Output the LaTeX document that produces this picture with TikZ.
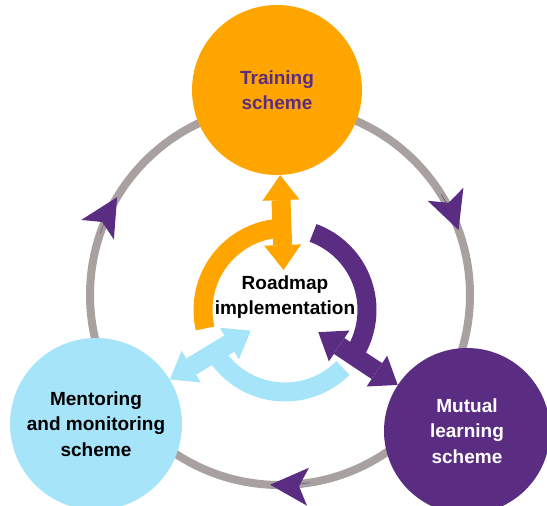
\documentclass[tikz,border=0pt]{standalone}
\usepackage{fontspec}
\setmainfont{Liberation Sans}
\definecolor{schemeorange}{HTML}{FFA500}
\definecolor{schemeblue}{HTML}{A6E4F9}
\definecolor{schemepurple}{HTML}{5B2D82}
\definecolor{ringgrey}{HTML}{A9A0A0}
\usetikzlibrary{arrows.meta}

\begin{document}
\begin{tikzpicture}[x=1pt,y=1pt,
  label text/.style={font=\fontsize{19}{25.5}\selectfont\bfseries,align=center},
  scheme/.style={circle,minimum size=#1,inner sep=0pt,label text},
  band/.style={line width=19pt},
  spoke/.style={band,shorten <=40pt,
    {Triangle[length=25pt,width=37pt,line width=0pt]}-{Triangle[length=25pt,width=37pt,line width=0pt]}},
  flow/.style={schemepurple,line width=0.4pt,
    -{Stealth[length=38pt,width=38pt,inset=9pt,line width=0pt]}}]
  \useasboundingbox (0,0) rectangle (547,506);
  \coordinate (ringc) at (280,211);
  \coordinate (hub) at (285,196);

  % Outer cycle
  \draw[ringgrey,line width=8pt] (ringc) circle (190);

  % The three schemes
  \node[scheme=170pt,fill=schemeorange,text=schemepurple] (training) at (277,416) {Training\\scheme};
  \node[scheme=172pt,fill=schemeblue] (mentoring) at (96,82) {Mentoring\\and monitoring\\scheme};
  \node[scheme=166pt,fill=schemepurple,text=white] (mutual) at (467,75) {Mutual\\learning\\scheme};

  % Clockwise arrowheads on the cycle
  \foreach \a in {149,20,267} {
    \draw[flow] (ringc) ++(\a+12:190) arc (\a+12:\a:190);
  }

  % Inner ring around the roadmap
  \draw[band,schemeorange] (hub) ++(86:82) arc (86:193:82);
  \draw[band,schemepurple] (hub) ++(-37:82) arc (-37:70:82);
  \draw[band,schemeblue] (hub) ++(207:82) arc (207:315:82);
  \draw[spoke,schemeorange] (hub) -- (training);
  \draw[spoke,schemepurple] (hub) -- (mutual);
  \draw[spoke,schemeblue] (hub) -- (mentoring);

  \node[label text] (roadmap) at (285,209) {Roadmap\\implementation};
\end{tikzpicture}
\end{document}
